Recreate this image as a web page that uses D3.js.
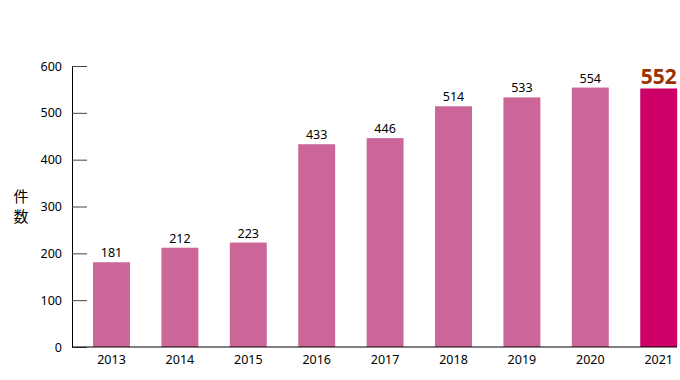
<!DOCTYPE html>
<meta charset="utf-8">
<script src="https://d3js.org/d3.v7.min.js"></script>
<style>
    body { margin: 0; font-family: 'Noto Sans', 'Open Sans', sans-serif; }
</style>
<div id="chart"></div>
<script>
    // data
    var years = ["2013", "2014", "2015", "2016", "2017", "2018", "2019", "2020", "2021"];
    var counts = [181, 212, 223, 433, 446, 514, 533, 554, 552];
    var yTicks = [0, 100, 200, 300, 400, 500, 600];

    var margin = {top: 66, right: 0, bottom: 33, left: 72},
        width = 680 - margin.left - margin.right,
        height = 380 - margin.top - margin.bottom;

    var svg = d3.select("#chart").append("svg")
        .attr("width", 680)
        .attr("height", 380)
        .append("g")
        .attr("transform", "translate(" + margin.left + "," + margin.top + ")");

    var step = 68.4;
    var x = d3.scaleBand()
        .domain(years)
        .range([5.3, 5.3 + step * years.length])
        .paddingInner(0.46)
        .paddingOuter(0.23);

    var y = d3.scaleLinear().domain([0, 600]).range([height, 0]);

    // bars
    svg.selectAll("rect.bar")
        .data(years)
        .enter().append("rect")
        .attr("class", "bar")
        .attr("x", function(d) { return x(d); })
        .attr("width", x.bandwidth())
        .attr("y", function(d, i) { return y(counts[i]); })
        .attr("height", function(d, i) { return height - y(counts[i]); })
        .attr("fill", function(d, i) { return i == years.length - 1 ? "#cc0066" : "#cc6699"; });

    // value labels
    svg.selectAll("text.val")
        .data(years)
        .enter().append("text")
        .attr("class", "val")
        .attr("x", function(d) { return x(d) + x.bandwidth() / 2; })
        .attr("y", function(d, i) { return y(counts[i]) - (i == years.length - 1 ? 4 : 5); })
        .attr("text-anchor", "middle")
        .style("font-size", function(d, i) { return i == years.length - 1 ? "21px" : "12.5px"; })
        .style("font-weight", function(d, i) { return i == years.length - 1 ? "bold" : "normal"; })
        .style("fill", function(d, i) { return i == years.length - 1 ? "#993300" : "#000"; })
        .text(function(d, i) { return counts[i]; });

    // y axis, ticks pointing inward
    var yAxis = svg.append("g")
        .call(d3.axisLeft(y).tickValues(yTicks).tickSizeInner(-15).tickSizeOuter(0).tickPadding(10));
    yAxis.select(".domain").attr("stroke", "#000");
    yAxis.selectAll(".tick line").attr("stroke", "#444");
    yAxis.selectAll("text").style("font-size", "12.5px").style("font-family", "'Noto Sans', sans-serif").attr("fill", "#000");

    // x axis baseline
    var xAxis = svg.append("g")
        .attr("transform", "translate(0," + height + ")")
        .call(d3.axisBottom(x).tickSize(0).tickPadding(8));
    xAxis.select(".domain").attr("d", "M0,0H" + (605));
    xAxis.selectAll("text").style("font-size", "12.5px").style("font-family", "'Noto Sans', sans-serif").attr("fill", "#000");

    // y title, stacked vertically
    var title = svg.append("text")
        .attr("x", -51)
        .attr("y", 136)
        .attr("text-anchor", "middle")
        .style("font-size", "15px")
        .style("font-family", "'Noto Sans CJK JP', sans-serif");
    title.append("tspan").attr("x", -51).attr("dy", 0).text("件");
    title.append("tspan").attr("x", -51).attr("dy", "1.3em").text("数");
</script>
